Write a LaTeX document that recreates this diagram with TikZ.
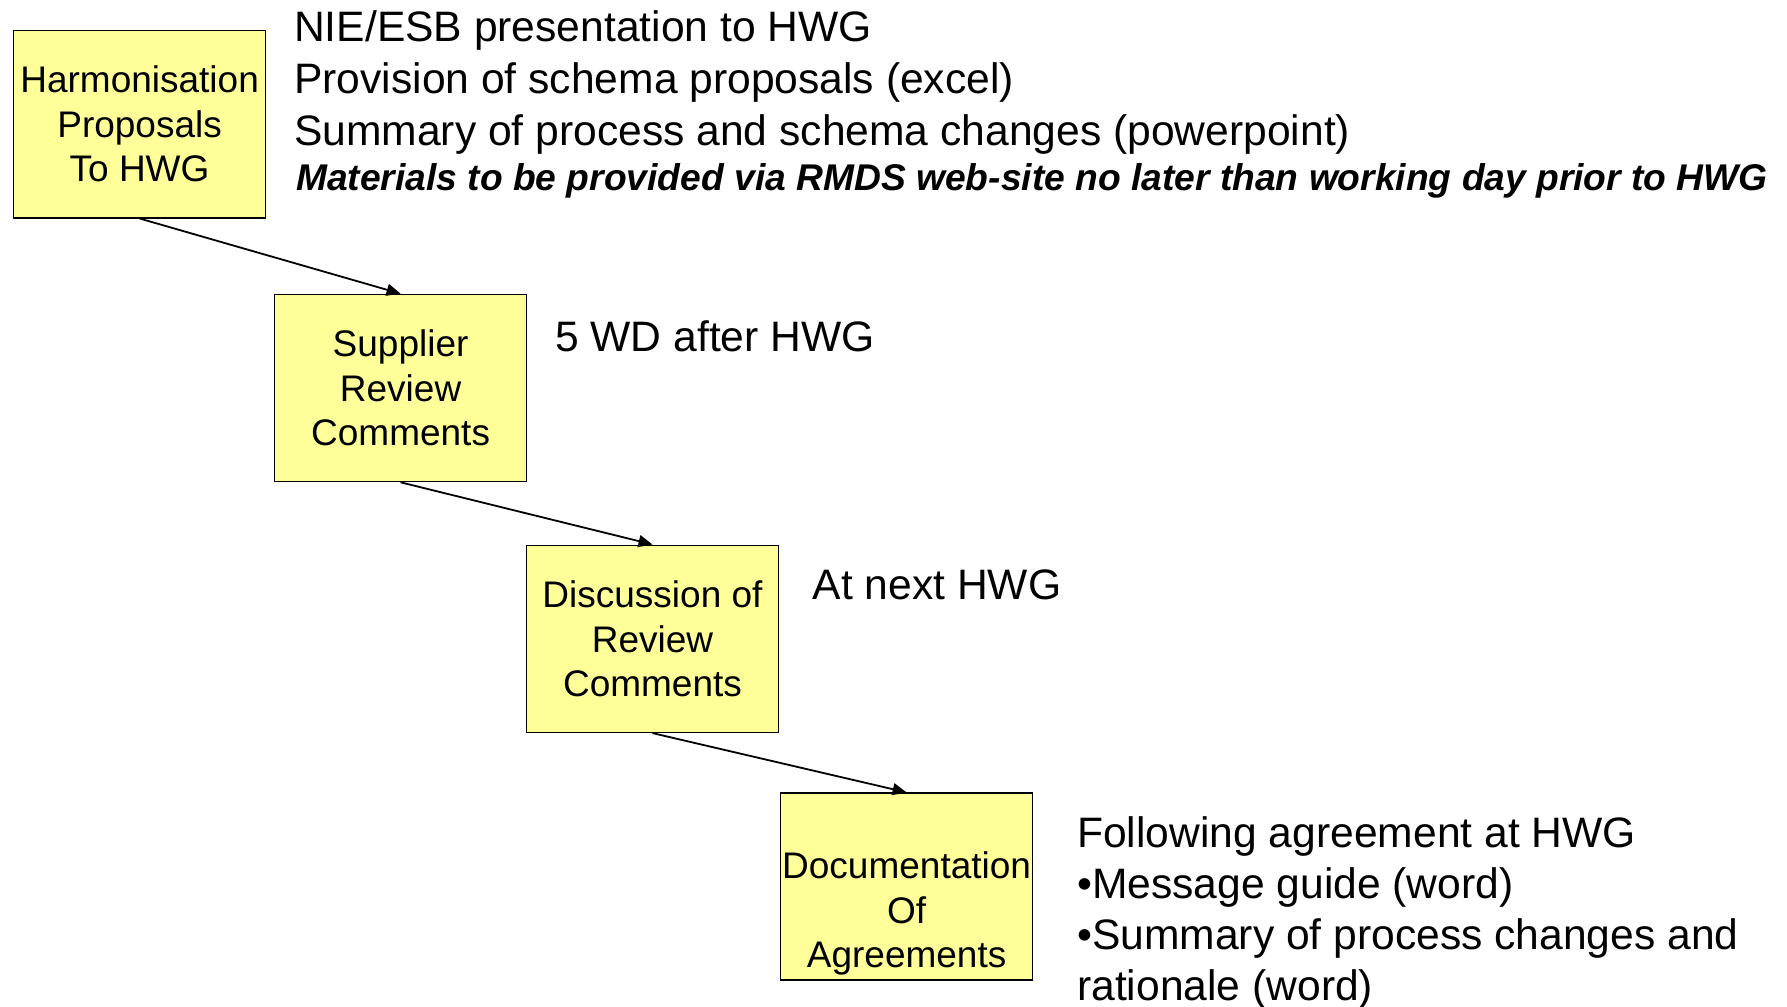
\documentclass[tikz,border=0pt]{standalone}
\usepackage{fontspec}
\setmainfont{Liberation Sans}
\usetikzlibrary{arrows.meta}
\definecolor{boxyellow}{RGB}{255,255,153}
\begin{document}
\begin{tikzpicture}[x=1pt,y=-1pt,
  box/.style={draw=black, line width=1.6pt, fill=boxyellow, minimum width=252pt, minimum height=187pt, inner sep=0pt, align=center, font=\fontsize{37}{44.5}\selectfont},
  boxtext/.style={inner sep=0pt, align=center, font=\fontsize{37}{44.5}\selectfont},
  note/.style={anchor=base west, inner sep=0pt, font=\fontsize{42.6}{51}\selectfont},
  flow/.style={-{Triangle[length=14pt,width=12pt]}, line width=1.8pt}]
\useasboundingbox (0,0) rectangle (1787,1006);
\fill[white] (0,0) rectangle (1787,1006);

\node[box] (b1) at (139.6,124.2) {Harmonisation\\Proposals\\To HWG};
\node[box] (b2) at (400.6,388) {Supplier\\Review\\Comments};
\node[box] (b3) at (652.5,638.8) {Discussion of\\Review\\Comments};
\node[box] (b4) at (906.6,886.7) {};
\node[boxtext] (b4t) at (906.6,913.5) {Documentation\\Of\\Agreements};

\draw[flow] (b1.south) -- (b2.north);
\draw[flow] (b2.south) -- (b3.north);
\draw[flow] (b3.south) -- (b4.north);

\node[note] (t1) at (294,41.5) {NIE/ESB presentation to HWG};
\node[note] (t2) at (294,94) {Provision of schema proposals (excel)};
\node[note] (t3) at (294,145) {Summary of process and schema changes (powerpoint)};
\node[note, font=\fontsize{37.2}{44}\selectfont\bfseries\itshape] (t4) at (296,190) {Materials to be provided via RMDS web-site no later than working day prior to HWG};

\node[note] (n2) at (555,351) {5 WD after HWG};
\node[note] (n3) at (812.6,599) {At next HWG};

\node[note] (f1) at (1077,847) {Following agreement at HWG};
\node[note] (f2) at (1077,898) {•Message guide (word)};
\node[note] (f3) at (1077,949) {•Summary of process changes and};
\node[note] (f4) at (1077,1000) {rationale (word)};
\end{tikzpicture}
\end{document}
